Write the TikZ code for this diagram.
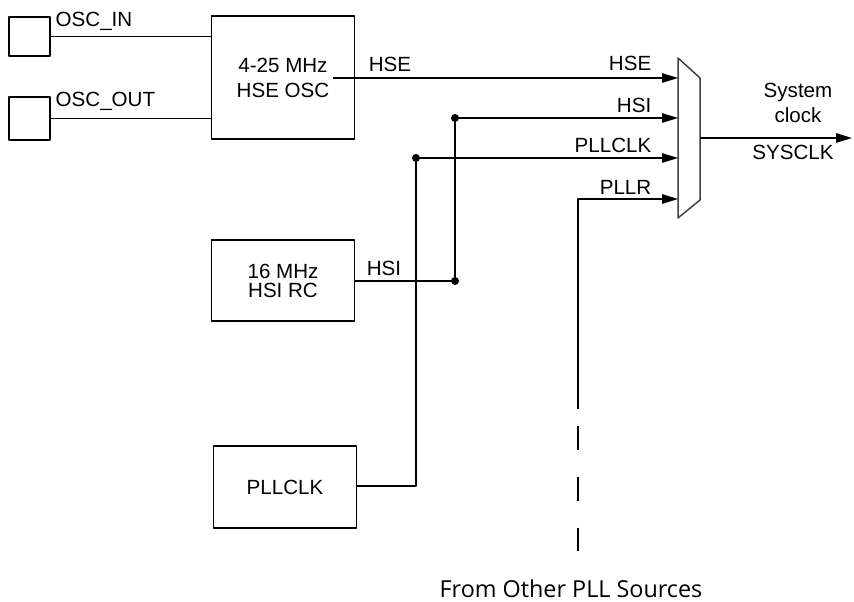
\documentclass[tikz,border=0pt]{standalone}
\usepackage{fontspec}
\setmainfont{Liberation Sans}
\newfontfamily\notefont{Open Sans}
\usetikzlibrary{arrows.meta}
\begin{document}
\begin{tikzpicture}[>={Triangle[length=3.2mm,width=1.9mm]},line join=round,x=.02cm,y=-.02cm,
		line width=.85pt,font=\fontsize{11.7}{14.2}\selectfont,
		blk/.style={draw,inner sep=0pt,minimum width=2.86cm,align=center},
		pad/.style={draw,inner sep=0pt,minimum width=.82cm},
		lbl/.style={inner sep=0pt,anchor=base east},
		dot/.style={circle,fill,inner sep=0pt,minimum size=1.6mm}]
	\useasboundingbox (0,0) rectangle (854,601);
	\node[pad,minimum height=.78cm] (in) at (29.5,36.5) {};
	\node[pad,minimum height=.86cm] (out) at (29.5,118.5) {};
	\node[blk,minimum height=2.46cm] (hse) at (283,77.5) {4-25 MHz\\HSE OSC};
	\node[blk,minimum height=1.62cm] (hsi) at (283,280.5) {16 MHz\\[-3.3pt]HSI RC};
	\node[blk,minimum height=1.64cm] (pll) at (285,487) {PLLCLK};
	\node[inner sep=0pt,anchor=base west] (inlbl) at (55,27) {OSC\_IN};
	\node[inner sep=0pt,anchor=base west] (outlbl) at (55,107) {OSC\_OUT};
	\draw (in.east) -- (in.east -| hse.west);
	\draw (out.east) -- (out.east -| hse.west);
	% multiplexer
	\coordinate (m1) at (678,58);
	\coordinate (m2) at (700,78);
	\coordinate (m3) at (700,200);
	\coordinate (m4) at (678,218);
	\draw[black!75] (m1)--(m2)--(m3)--(m4)--cycle;
	\coordinate (ihse) at (678,78);
	\coordinate (ihsi) at (678,118);
	\coordinate (ipll) at (678,158);
	\coordinate (iplr) at (678,199);
	\coordinate (osys) at (700,138);
	\coordinate (tip) at (852,138);
	% sources
	\coordinate (hsestart) at (333,78);
	\node[dot] (j1) at (455,118) {};
	\node[dot] (j2) at (455,281) {};
	\node[dot] (j3) at (416,158) {};
	\coordinate (k3) at (416,486);
	\coordinate (plr1) at (578,199);
	\coordinate (plr2) at (578,409);
	\coordinate (dsh1) at (578,426);
	\coordinate (dsh2) at (578,552);
	\draw[->] (hsestart) -- (ihse);
	\draw (hsi.east |- j2) -- (j2.center) -- (j1.center);
	\draw[->] (j1.center) -- (ihsi);
	\draw (pll.east |- k3) -- (k3) -- (j3.center);
	\draw[->] (j3.center) -- (ipll);
	\draw[->] (plr2) -- (plr1) -- (iplr);
	\draw[dash pattern=on 16\pgflinewidth off 18\pgflinewidth] (dsh1) -- (dsh2);
	\draw[->] (osys) -- (tip);
	% labels
	\node[inner sep=0pt,anchor=base west] (l1) at (368,71.5) {HSE};
	\node[inner sep=0pt,anchor=base west] (l2) at (366,275) {HSI};
	\node[lbl] (r1) at (652,70.5) {HSE};
	\node[lbl] (r2) at (652,112.5) {HSI};
	\node[lbl] (r3) at (652,152.5) {PLLCLK};
	\node[lbl] (r4) at (652,194.5) {PLLR};
	\node[inner sep=0pt,anchor=base] (sys1) at (798,98) {System};
	\node[inner sep=0pt,anchor=base] (sys2) at (798,123) {clock};
	\node[inner sep=0pt,anchor=base] (sys3) at (793,159.5) {SYSCLK};
	\node[inner sep=0pt,anchor=base,font=\notefont\fontsize{13.3}{15}\selectfont] (note) at (571,597) {From Other PLL Sources};
\end{tikzpicture}
\end{document}
